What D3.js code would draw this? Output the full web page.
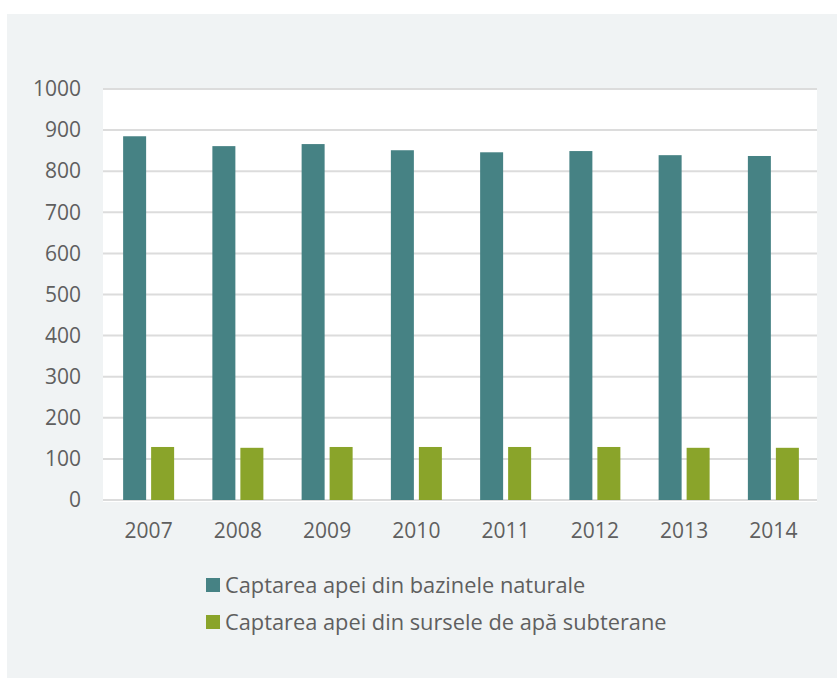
<!DOCTYPE html>
<html>
<head>
<meta charset="utf-8">
<script src="https://cdn.jsdelivr.net/npm/d3@7"></script>
<style>
  html, body { margin: 0; padding: 0; background: #ffffff; }
  svg { display: block; }
  text { font-family: "Open Sans", "Noto Sans", sans-serif; fill: #5f5f5f; }
</style>
</head>
<body>
<svg id="chart" width="837" height="678"></svg>
<script>
const categories = ["2007", "2008", "2009", "2010", "2011", "2012", "2013", "2014"];
const seriesNames = ["Captarea apei din bazinele naturale", "Captarea apei din sursele de apă subterane"];
const naturale = [885, 861, 866, 851, 846, 849, 839, 837];
const subterane = [129, 127, 129, 129, 129, 129, 127, 127];
const yTicks = [0, 100, 200, 300, 400, 500, 600, 700, 800, 900, 1000];
const colors = ["#468284", "#8aa42a"];

const svg = d3.select("#chart");
// panel background
svg.append("rect").attr("x", 7).attr("y", 14).attr("width", 830).attr("height", 664).attr("fill", "#f0f3f4");

const plot = { left: 103, right: 817, top: 88, bottom: 500 };
svg.append("rect").attr("x", plot.left).attr("y", plot.top)
  .attr("width", plot.right - plot.left).attr("height", plot.bottom - plot.top + 2).attr("fill", "#ffffff");

const x = d3.scaleBand().domain(categories).range([plot.left + 1, plot.right + 1]);
const y = d3.scaleLinear().domain([0, 1000]).range([plot.bottom, 89]);

// gridlines
svg.append("g").selectAll("line").data(yTicks).join("line")
  .attr("x1", plot.left).attr("x2", plot.right)
  .attr("y1", d => y(d)).attr("y2", d => y(d))
  .attr("stroke", "#dcdcdc").attr("stroke-width", 2);

// y axis labels
const yAxis = d3.axisLeft(y).tickValues(yTicks).tickSize(0).tickPadding(0).tickFormat(d3.format("d"));
const gy = svg.append("g").attr("transform", `translate(81,0)`).call(yAxis);
gy.select(".domain").remove();
gy.selectAll("text").attr("font-size", 21).attr("fill", "#5f5f5f").attr("font-family", '"Open Sans", sans-serif');

// x axis labels
const xAxis = d3.axisBottom(x).tickSize(0).tickPadding(0);
const gx = svg.append("g").attr("transform", `translate(0,523)`).call(xAxis);
gx.select(".domain").remove();
gx.selectAll("text").attr("font-size", 21).attr("fill", "#5f5f5f").attr("font-family", '"Open Sans", sans-serif');

// bars
const barW = 23, gap = 5;
const data = [naturale, subterane];
data.forEach((vals, si) => {
  svg.append("g").selectAll("rect").data(vals).join("rect")
    .attr("x", (d, i) => x(categories[i]) + x.bandwidth() / 2 - barW - gap / 2 + si * (barW + gap))
    .attr("y", d => y(d))
    .attr("width", barW)
    .attr("height", d => y(0) - y(d))
    .attr("fill", colors[si]);
});

// legend
const leg = svg.append("g");
seriesNames.forEach((name, i) => {
  const cy = 585 + i * 37;
  leg.append("rect").attr("x", 206).attr("y", cy - 7).attr("width", 14).attr("height", 14).attr("fill", colors[i]);
  leg.append("text").attr("x", 225).attr("y", cy).attr("dy", "0.35em")
    .attr("font-size", 21.8).attr("fill", "#5f5f5f").text(name);
});
</script>
</body>
</html>
